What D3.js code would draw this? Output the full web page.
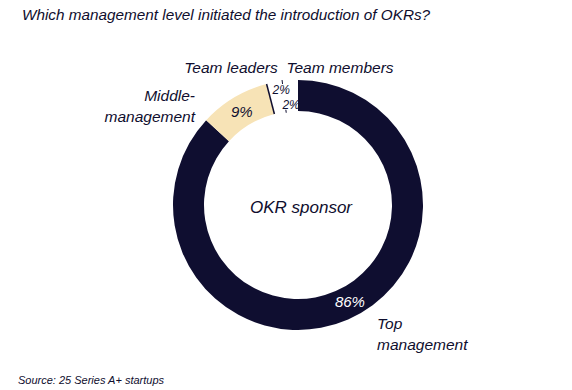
<!DOCTYPE html>
<html>
<head>
<meta charset="utf-8">
<script src="https://cdn.jsdelivr.net/npm/d3@7"></script>
<style>
  body { margin: 0; background: #fff; }
  text { font-family: "Liberation Sans", sans-serif; font-style: italic; fill: #0f0e2e; }
</style>
</head>
<body>
<div id="chart"></div>
<script>
// categories and shares (%), clockwise from 12 o'clock
const categories = ["Top management", "Middle-management", "Team leaders", "Team members"];
const shares = [86, 9, 2, 2];
const colors = ["#0f0e30", "#f7e3b6", "#ffffff", "#ffffff"];

const width = 572, height = 390;
const cx = 298, cy = 205;
const outerR = 125, innerR = 94;

const svg = d3.select("#chart").append("svg")
  .attr("width", width)
  .attr("height", height);

svg.append("text")
  .attr("x", 22).attr("y", 20)
  .style("font-size", "15.3px")
  .text("Which management level initiated the introduction of OKRs?");

const pie = d3.pie().sort(null).value(d => d);
const arcs = pie(shares);
const arc = d3.arc().innerRadius(innerR).outerRadius(outerR);

const g = svg.append("g").attr("transform", `translate(${cx},${cy})`);

g.selectAll("path.slice")
  .data(arcs)
  .enter().append("path")
  .attr("class", "slice")
  .attr("d", arc)
  .attr("fill", (d, i) => colors[i]);

// separator between middle-management and team leaders
const dir = a => [Math.sin(a), -Math.cos(a)];
const a1 = arcs[1].endAngle;
g.append("line")
  .attr("x1", dir(a1)[0] * innerR).attr("y1", dir(a1)[1] * innerR)
  .attr("x2", dir(a1)[0] * outerR).attr("y2", dir(a1)[1] * outerR)
  .attr("stroke", "#0f0e30").attr("stroke-width", 1.5);

// small ticks between team leaders and team members
const a2 = arcs[2].endAngle;
[[outerR - 3, outerR + 1], [innerR - 1, innerR + 2]].forEach(r => {
  g.append("line")
    .attr("x1", dir(a2)[0] * r[0]).attr("y1", dir(a2)[1] * r[0])
    .attr("x2", dir(a2)[0] * r[1]).attr("y2", dir(a2)[1] * r[1])
    .attr("stroke", "#0f0e30").attr("stroke-width", 1);
});

// percentage labels (offsets from slice centroid)
const pctLabels = [
  { i: 0, r: innerR + 16, angle: 2.65, size: 15, fill: "#ffffff" },
  { i: 1, dx: 0, dy: 0, size: 15, fill: "#0f0e30" },
  { i: 2, dx: 4, dy: -7, size: 12, fill: "#0f0e30" },
  { i: 3, dx: 0, dy: 9, size: 12, fill: "#0f0e30" }
];
pctLabels.forEach(l => {
  let p;
  if (l.r) {
    p = [dir(l.angle)[0] * l.r, dir(l.angle)[1] * l.r];
  } else {
    const c = arc.centroid(arcs[l.i]);
    p = [c[0] + l.dx, c[1] + l.dy];
  }
  g.append("text")
    .attr("x", p[0]).attr("y", p[1])
    .attr("text-anchor", "middle")
    .attr("dominant-baseline", "central")
    .style("font-size", l.size + "px")
    .style("fill", l.fill)
    .text(shares[l.i] + "%");
});

g.append("text")
  .attr("x", 3).attr("y", 8)
  .attr("text-anchor", "middle")
  .style("font-size", "17px")
  .text("OKR sponsor");

// category labels
const catLabels = [
  { lines: ["Top", "management"], x: 377, y: 329, anchor: "start" },
  { lines: ["Middle-", "management"], x: 195, y: 101, anchor: "end" },
  { lines: ["Team leaders"], x: 231, y: 73, anchor: "middle" },
  { lines: ["Team members"], x: 340, y: 73, anchor: "middle" }
];
catLabels.forEach(c => {
  const t = svg.append("text")
    .attr("x", c.x).attr("y", c.y)
    .attr("text-anchor", c.anchor)
    .style("font-size", "15.5px");
  c.lines.forEach((ln, k) => {
    t.append("tspan").attr("x", c.x).attr("dy", k === 0 ? 0 : 21).text(ln);
  });
});

svg.append("text")
  .attr("x", 18).attr("y", 384)
  .style("font-size", "11px")
  .text("Source:  25 Series A+ startups");
</script>
</body>
</html>
